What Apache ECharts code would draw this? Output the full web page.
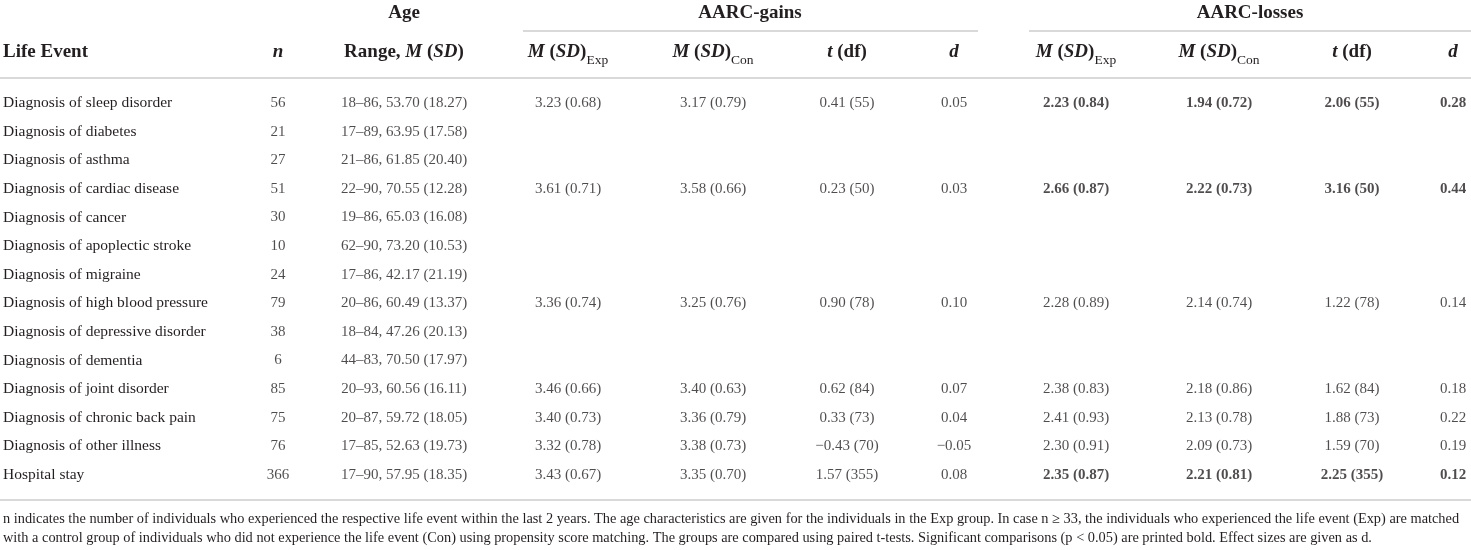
<!DOCTYPE html>
<html>
<head>
<meta charset="utf-8">
<script src="https://cdn.jsdelivr.net/npm/echarts@6/dist/echarts.min.js"></script>
<style>
  html, body { margin: 0; padding: 0; background: #fff; }
  #chart { width: 1471px; height: 550px; }
</style>
</head>
<body>
<div id="chart"></div>
<script>
// table data (null = empty cell)
const events = [
  'Diagnosis of sleep disorder', 'Diagnosis of diabetes', 'Diagnosis of asthma',
  'Diagnosis of cardiac disease', 'Diagnosis of cancer', 'Diagnosis of apoplectic stroke',
  'Diagnosis of migraine', 'Diagnosis of high blood pressure', 'Diagnosis of depressive disorder',
  'Diagnosis of dementia', 'Diagnosis of joint disorder', 'Diagnosis of chronic back pain',
  'Diagnosis of other illness', 'Hospital stay'
];
const nValues = [56, 21, 27, 51, 30, 10, 24, 79, 38, 6, 85, 75, 76, 366];
const ageMin = [18, 17, 21, 22, 19, 62, 17, 20, 18, 44, 20, 20, 17, 17];
const ageMax = [86, 89, 86, 90, 86, 90, 86, 86, 84, 83, 93, 87, 85, 90];
const ageMean = [53.70, 63.95, 61.85, 70.55, 65.03, 73.20, 42.17, 60.49, 47.26, 70.50, 60.56, 59.72, 52.63, 57.95];
const ageSD = [18.27, 17.58, 20.40, 12.28, 16.08, 10.53, 21.19, 13.37, 20.13, 17.97, 16.11, 18.05, 19.73, 18.35];

const gainsExp = [[3.23, 0.68], null, null, [3.61, 0.71], null, null, null, [3.36, 0.74], null, null, [3.46, 0.66], [3.40, 0.73], [3.32, 0.78], [3.43, 0.67]];
const gainsCon = [[3.17, 0.79], null, null, [3.58, 0.66], null, null, null, [3.25, 0.76], null, null, [3.40, 0.63], [3.36, 0.79], [3.38, 0.73], [3.35, 0.70]];
const gainsT = [[0.41, 55], null, null, [0.23, 50], null, null, null, [0.90, 78], null, null, [0.62, 84], [0.33, 73], [-0.43, 70], [1.57, 355]];
const gainsD = [0.05, null, null, 0.03, null, null, null, 0.10, null, null, 0.07, 0.04, -0.05, 0.08];

const lossesExp = [[2.23, 0.84], null, null, [2.66, 0.87], null, null, null, [2.28, 0.89], null, null, [2.38, 0.83], [2.41, 0.93], [2.30, 0.91], [2.35, 0.87]];
const lossesCon = [[1.94, 0.72], null, null, [2.22, 0.73], null, null, null, [2.14, 0.74], null, null, [2.18, 0.86], [2.13, 0.78], [2.09, 0.73], [2.21, 0.81]];
const lossesT = [[2.06, 55], null, null, [3.16, 50], null, null, null, [1.22, 78], null, null, [1.62, 84], [1.88, 73], [1.59, 70], [2.25, 355]];
const lossesD = [0.28, null, null, 0.44, null, null, null, 0.14, null, null, 0.18, 0.22, 0.19, 0.12];

// significant (p < 0.05) rows are printed bold
const gainsSig = [false, false, false, false, false, false, false, false, false, false, false, false, false, false];
const lossesSig = [true, false, false, true, false, false, false, false, false, false, false, false, false, true];

const footnotes = [
  'n indicates the number of individuals who experienced the respective life event within the last 2 years. The age characteristics are given for the individuals in the Exp group. In case n \u2265 33, the individuals who experienced the life event (Exp) are matched',
  'with a control group of individuals who did not experience the life event (Con) using propensity score matching. The groups are compared using paired t-tests. Significant comparisons (p < 0.05) are printed bold. Effect sizes are given as d.'
];

// layout (pixels)
const colX = {n: 278, age: 404, gExp: 568, gCon: 713, gT: 847, gD: 954, lExp: 1076, lCon: 1219, lT: 1352, lD: 1453};
const FONT = "'Liberation Serif', 'Times New Roman', serif";
const INK = '#231f20';
const RULE = '#cccccc';

function num(v) {
  return (v < 0 ? '\u2212' : '') + Math.abs(v).toFixed(2);
}
function msd(p) { return p == null ? null : num(p[0]) + ' (' + num(p[1]) + ')'; }
function tdf(p) { return p == null ? null : num(p[0]) + ' (' + p[1] + ')'; }
function dval(v) { return v == null ? null : num(v); }

function cellSeries(x, texts, sig) {
  let data = [];
  texts.forEach((t, i) => {
    if (t == null) return;
    data.push({
      name: t,
      value: [x, i],
      label: {fontWeight: sig && sig[i] ? 'bold' : 'normal'}
    });
  });
  return {
    type: 'scatter',
    symbolSize: 0,
    silent: true,
    clip: false,
    data: data,
    label: {
      show: true,
      position: 'inside',
      formatter: '{b}',
      fontFamily: FONT,
      fontSize: 15,
      color: INK
    },
    emphasis: {disabled: true}
  };
}

// header rich-text styles
const hb = {fontFamily: FONT, fontSize: 19, fontWeight: 'bold', fill: INK, lineHeight: 30};
const hbi = Object.assign({}, hb, {fontStyle: 'italic'});
const hsub = {fontFamily: FONT, fontSize: 13.5, fontWeight: 'normal', fill: INK, lineHeight: 18, verticalAlign: 'bottom'};
const headRich = {b: hb, bi: hbi, sub: hsub};

function head(x, y, text, align) {
  return {
    type: 'text',
    silent: true,
    style: {
      x: x, y: y, text: text, rich: headRich,
      fontFamily: FONT, fontSize: 19, fontWeight: 'bold', fill: INK,
      align: align || 'center', verticalAlign: 'middle'
    }
  };
}
function rule(x1, x2, y) {
  return {
    type: 'line', silent: true,
    shape: {x1: x1, y1: y, x2: x2, y2: y},
    style: {stroke: RULE, lineWidth: 1.5}
  };
}
function note(y, text) {
  return {
    type: 'text', silent: true,
    style: {x: 3, y: y, text: text, fontFamily: FONT, fontSize: 14.35, fill: INK, align: 'left', verticalAlign: 'middle'}
  };
}

const ages = events.map((e, i) => ageMin[i] + '\u2013' + ageMax[i] + ', ' + ageMean[i].toFixed(2) + ' (' + ageSD[i].toFixed(2) + ')');

const chart = echarts.init(document.getElementById('chart'));
chart.setOption({
  animation: false,
  grid: {left: 0, right: 0, top: 88.7, bottom: 60.7},
  xAxis: {type: 'value', min: 0, max: 1471, show: false},
  yAxis: {
    type: 'category',
    data: events,
    inverse: true,
    axisLine: {show: false},
    axisTick: {show: false},
    splitLine: {show: false},
    axisLabel: {
      inside: true,
      margin: 3,
      align: 'left',
      fontFamily: FONT,
      fontSize: 15.5,
      color: INK
    }
  },
  graphic: [
    head(colX.age, 13, '{b|Age}'),
    head(750, 13, '{b|AARC-gains}'),
    head(1250, 13, '{b|AARC-losses}'),
    rule(523, 978, 31),
    rule(1029, 1471, 31),
    head(3, 52, '{b|Life Event}', 'left'),
    head(colX.n, 52, '{bi|n}'),
    head(colX.age, 52, '{b|Range, }{bi|M}{b| (}{bi|SD}{b|)}'),
    head(colX.gExp, 52, '{bi|M}{b| (}{bi|SD}{b|)}{sub|Exp}'),
    head(colX.gCon, 52, '{bi|M}{b| (}{bi|SD}{b|)}{sub|Con}'),
    head(colX.gT, 52, '{bi|t}{b| (df)}'),
    head(colX.gD, 52, '{bi|d}'),
    head(colX.lExp, 52, '{bi|M}{b| (}{bi|SD}{b|)}{sub|Exp}'),
    head(colX.lCon, 52, '{bi|M}{b| (}{bi|SD}{b|)}{sub|Con}'),
    head(colX.lT, 52, '{bi|t}{b| (df)}'),
    head(colX.lD, 52, '{bi|d}'),
    rule(0, 1471, 78),
    rule(0, 1471, 500),
    note(519, footnotes[0]),
    note(538, footnotes[1])
  ],
  series: [
    cellSeries(colX.n, nValues.map(String)),
    cellSeries(colX.age, ages),
    cellSeries(colX.gExp, gainsExp.map(msd), gainsSig),
    cellSeries(colX.gCon, gainsCon.map(msd), gainsSig),
    cellSeries(colX.gT, gainsT.map(tdf), gainsSig),
    cellSeries(colX.gD, gainsD.map(dval), gainsSig),
    cellSeries(colX.lExp, lossesExp.map(msd), lossesSig),
    cellSeries(colX.lCon, lossesCon.map(msd), lossesSig),
    cellSeries(colX.lT, lossesT.map(tdf), lossesSig),
    cellSeries(colX.lD, lossesD.map(dval), lossesSig)
  ]
});
</script>
</body>
</html>
